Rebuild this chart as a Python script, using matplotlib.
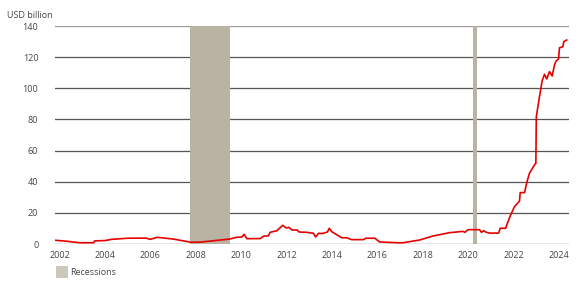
import matplotlib
matplotlib.use("Agg")
import matplotlib.pyplot as plt
from matplotlib.patches import Patch

# Data (decimal year, USD billion)
years = [2001.8, 2002.3, 2002.9, 2003.5, 2003.55, 2004.0, 2004.3, 2005.0, 2005.8, 2006.0,
         2006.3, 2007.0, 2007.8, 2008.2, 2009.5, 2009.8, 2010.03, 2010.13, 2010.25, 2010.84,
         2011.0, 2011.2, 2011.27, 2011.57, 2011.83, 2011.98, 2012.1, 2012.24, 2012.47, 2012.55,
         2012.89, 2013.18, 2013.28, 2013.41, 2013.56, 2013.8, 2013.88, 2013.99, 2014.43, 2014.65,
         2014.87, 2015.38, 2015.5, 2015.89, 2016.1, 2016.9, 2017.13, 2017.87, 2018.44, 2019.19,
         2019.77, 2019.85, 2019.99, 2020.5, 2020.58, 2020.68, 2020.8, 2020.95, 2021.34, 2021.41,
         2021.65, 2021.7, 2021.87, 2022.04, 2022.26, 2022.29, 2022.48, 2022.59, 2022.7, 2022.95,
         2022.98, 2023.0, 2023.14, 2023.26, 2023.36, 2023.46, 2023.58, 2023.7, 2023.8, 2023.87,
         2023.98, 2024.02, 2024.17, 2024.21, 2024.34]
values = [2.4, 1.8, 0.8, 0.8, 2.0, 2.2, 3.0, 3.7, 3.8, 3.0,
          4.3, 3.2, 1.1, 1.2, 3.2, 4.3, 4.5, 6.2, 3.4, 3.5,
          5.1, 5.2, 7.5, 8.5, 12.0, 10.3, 10.7, 9.0, 9.0, 7.7,
          7.5, 6.9, 4.5, 6.9, 6.7, 7.7, 10.1, 7.9, 4.0, 4.0,
          2.8, 2.8, 3.7, 3.7, 1.3, 0.8, 0.8, 2.6, 5.1, 7.3,
          8.1, 7.5, 9.2, 9.2, 7.5, 8.5, 7.5, 7.0, 7.0, 10.1,
          10.1, 12.3, 18.7, 24.0, 27.6, 33.0, 33.0, 40.0, 45.5, 51.5,
          51.7, 81.7, 94.6, 105.0, 109.0, 106.0, 110.7, 107.9, 115.0, 117.5,
          118.8, 126.0, 126.7, 130.0, 131.0]

recessions = [(2007.75, 2009.5), (2020.2, 2020.37)]
xticks = [2002, 2004, 2006, 2008, 2010, 2012, 2014, 2016, 2018, 2020, 2022, 2024]
yticks = [0, 20, 40, 60, 80, 100, 120, 140]

plt.rcParams['font.family'] = ['Open Sans', 'DejaVu Sans']

fig = plt.figure(figsize=(5.8, 2.9), dpi=100)
ax = fig.add_axes([55/580, 1-244/290, (569-55)/580, (244-26)/290])

for y in yticks:
    if y == 0:
        col = '#333333'
    elif y == 140:
        col = '#999999'
    else:
        col = '#555555'
    ax.axhline(y, color=col, lw=0.9, zorder=1)

for a, b in recessions:
    ax.axvspan(a, b, color='#b9b3a3', lw=0, zorder=2)

ax.plot(years, values, color='#e60000', lw=1.2, zorder=3)

ax.set_xlim(2001.8, 2024.44)
ax.set_ylim(0, 140)
ax.set_xticks(xticks)
ax.set_xticklabels([str(x) for x in xticks])
ax.set_yticks(yticks)
ax.tick_params(length=0, labelsize=6.5, colors='#444444')
ax.tick_params(axis='x', pad=5)
ax.tick_params(axis='y', pad=12)
for s in ax.spines.values():
    s.set_visible(False)

fig.text(7/580, 1-15/290, 'USD billion', fontsize=6.5, color='#444444', va='center', ha='left')

leg = fig.legend(handles=[Patch(facecolor='#cbc8b9', edgecolor='none', label='Recessions')],
                 loc='center left', bbox_to_anchor=(48/580, 1-272/290), frameon=False,
                 fontsize=6.5, handlelength=1.3, handleheight=1.6, handletextpad=0.3)
for t in leg.get_texts():
    t.set_color('#444444')

fig.savefig('out.png', dpi=100)
